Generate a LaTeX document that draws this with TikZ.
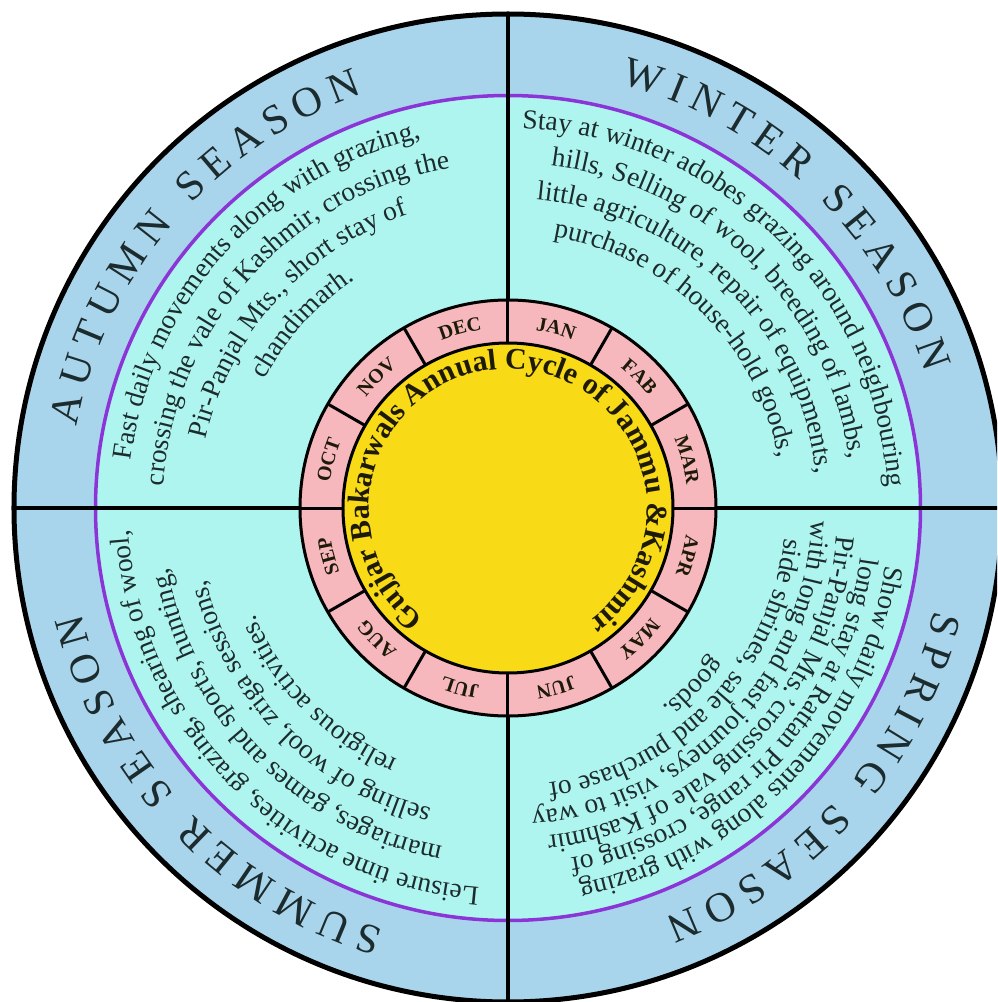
\documentclass[tikz,border=0pt]{standalone}
\usepackage{fontspec}
\setmainfont{Liberation Serif}
\definecolor{bandblue}{HTML}{A9D5EC}
\definecolor{innercyan}{HTML}{AFF5EF}
\definecolor{ringpurple}{HTML}{8B35D6}
\definecolor{monthpink}{HTML}{F6B8BC}
\definecolor{sunyellow}{HTML}{F8DA16}
\definecolor{inkdark}{HTML}{1C2B2D}
\definecolor{titleink}{HTML}{1E1A08}
\newcommand\descfont{\fontsize{27.5}{30}\selectfont}
\newcommand\seasonfont{\fontsize{42}{44}\selectfont}
\newcommand\monthfont{\fontsize{20}{22}\selectfont\bfseries}
\newcommand\titlefont{\fontsize{30}{32}\selectfont\bfseries}
\AtBeginDocument{\let\arcorigselectfont\selectfont}
\ExplSyntaxOn
\dim_new:N \l__arc_total_dim
\dim_new:N \l__arc_pos_dim
\dim_new:N \l__arc_mid_dim
\fp_new:N \l__arc_ang_fp
\box_new:N \l__arc_box
\int_new:N \g__arc_count_int
\cs_new_protected:Npn \__arc_setbox:nn #1#2
  {
    \str_if_eq:nnTF {#2} {~}
      { \hbox_set:Nn \l__arc_box { \cs_set_eq:NN \selectfont \arcorigselectfont #1 \skip_horizontal:n { \fontdimen2\font } } }
      { \hbox_set:Nn \l__arc_box { \cs_set_eq:NN \selectfont \arcorigselectfont #1 #2 } }
  }
% #1 radius (pt number), #2 centre angle, #3 font, #4 tracking, #5 colour, #6 text
\cs_new_protected:Npn \arcstring #1#2#3#4#5#6
  {
    \dim_zero:N \l__arc_total_dim
    \str_map_inline:nn {#6}
      {
        \__arc_setbox:nn {#3} {##1}
        \dim_add:Nn \l__arc_total_dim { \box_wd:N \l__arc_box + #4 }
      }
    \dim_set:Nn \l__arc_pos_dim { -\l__arc_total_dim / 2 }
    \str_map_inline:nn {#6}
      {
        \__arc_setbox:nn {#3} {##1}
        \dim_set:Nn \l__arc_mid_dim { \l__arc_pos_dim + \box_wd:N \l__arc_box / 2 + (#4) / 2 }
        \fp_set:Nn \l__arc_ang_fp { (#2) - \dim_to_fp:n { \l__arc_mid_dim } / (#1) * 180 / pi }
        \str_if_eq:nnF {##1} {~}
          {
            \int_gincr:N \g__arc_count_int
            \node [ name = ch\int_use:N \g__arc_count_int ,
                    rotate = \fp_eval:n { round(\l__arc_ang_fp - 90, 3) } ,
                    anchor = base , inner~sep = 0pt , outer~sep = 0pt , text = #5 ]
              at ( \fp_eval:n { round( (#1) * cosd(\l__arc_ang_fp), 3) } pt ,
                   \fp_eval:n { round( (#1) * sind(\l__arc_ang_fp), 3) } pt )
              { #3 ##1 } ;
          }
        \dim_add:Nn \l__arc_pos_dim { \box_wd:N \l__arc_box + #4 }
      }
  }
\ExplSyntaxOff
\tikzset{
  blackline/.style={draw=black, line width=3.5pt},
  ringline/.style={draw=black, line width=3pt},
}
\begin{document}
\begin{tikzpicture}
\clip (-508pt,-494pt) rectangle (489pt,508pt);
\fill[white] (-508pt,-494pt) rectangle (489pt,508pt);
\coordinate (O) at (0,0);
\coordinate (N) at (90:494pt);
\coordinate (S) at (-90:494pt);
\coordinate (W) at (180:494pt);
\coordinate (E) at (0:494pt);
% bands
\fill[bandblue] (O) circle[radius=494pt];
\fill[innercyan] (O) circle[radius=412.5pt];
\draw[ringpurple, line width=3.5pt] (O) circle[radius=412.5pt];
% cross
\draw[blackline] (N) -- (S);
\draw[blackline] (W) -- (E);
% month ring
\filldraw[fill=monthpink, ringline] (O) circle[radius=208pt];
\foreach \a in {0,30,...,330}{
  \draw[ringline] (\a:165pt) -- (\a:208pt);
}
\filldraw[fill=sunyellow, ringline] (O) circle[radius=165pt];
% outer rim
\draw[black, line width=5pt] (O) circle[radius=494pt];
% months
\arcstring{180}{75}{\monthfont}{0pt}{titleink}{JAN}
\arcstring{180}{45}{\monthfont}{0pt}{titleink}{FAB}
\arcstring{180}{15}{\monthfont}{0pt}{titleink}{MAR}
\arcstring{180}{-15}{\monthfont}{0pt}{titleink}{APR}
\arcstring{180}{-45}{\monthfont}{0pt}{titleink}{MAY}
\arcstring{180}{-75}{\monthfont}{0pt}{titleink}{JUN}
\arcstring{180}{-105}{\monthfont}{0pt}{titleink}{JUL}
\arcstring{180}{-135}{\monthfont}{0pt}{titleink}{AUG}
\arcstring{180}{-165}{\monthfont}{0pt}{titleink}{SEP}
\arcstring{180}{165}{\monthfont}{0pt}{titleink}{OCT}
\arcstring{180}{135}{\monthfont}{0pt}{titleink}{NOV}
\arcstring{180}{105}{\monthfont}{0pt}{titleink}{DEC}
% title
\arcstring{139}{89}{\titlefont}{0pt}{titleink}{Gujjar Bakarwals Annual Cycle of Jammu &Kashmir}
% seasons
\arcstring{439}{139.3}{\seasonfont}{8.5pt}{inkdark}{AUTUMN SEASON}
\arcstring{439}{46.5}{\seasonfont}{8.5pt}{inkdark}{WINTER SEASON}
\arcstring{439}{-41.3}{\seasonfont}{8.5pt}{inkdark}{SPRING SEASON}
\arcstring{439}{-136.3}{\seasonfont}{8.5pt}{inkdark}{SUMMER SEASON}
% autumn
\arcstring{380}{138}{\descfont}{0pt}{inkdark}{Fast daily movements along with grazing,}
\arcstring{345}{138}{\descfont}{0pt}{inkdark}{crossing the vale of Kashmir, crossing the}
\arcstring{310}{138}{\descfont}{0pt}{inkdark}{Pir-Panjal Mts., short stay of}
\arcstring{275}{138}{\descfont}{0pt}{inkdark}{chandimarh.}
% winter
\arcstring{380}{45.5}{\descfont}{0pt}{inkdark}{Stay at winter adobes grazing around neighbouring}
\arcstring{345}{45.5}{\descfont}{0pt}{inkdark}{hills, Selling of wool, breeding of lambs,}
\arcstring{310}{45.5}{\descfont}{0pt}{inkdark}{little agriculture, repair of equipments,}
\arcstring{275}{45.5}{\descfont}{0pt}{inkdark}{purchase of house-hold goods,}
% spring
\arcstring{382}{-44}{\descfont}{0pt}{inkdark}{Show daily movements along with grazing}
\arcstring{356}{-44}{\descfont}{0pt}{inkdark}{long stay at Rattan Pir range, crossing of}
\arcstring{330}{-44}{\descfont}{0pt}{inkdark}{Pir-Panjal Mts.'crossing vale of Kashmir}
\arcstring{304}{-44}{\descfont}{0pt}{inkdark}{with long and fast journeys, visit to way}
\arcstring{278}{-44}{\descfont}{0pt}{inkdark}{side shrines, sale and purchase of}
\arcstring{252}{-44}{\descfont}{0pt}{inkdark}{goods.}
% summer
\arcstring{380}{-135.5}{\descfont}{0pt}{inkdark}{Leisure time activities, grazing, shearing of wool,}
\arcstring{345}{-135.5}{\descfont}{0pt}{inkdark}{marriages, games and sports, hunting,}
\arcstring{310}{-135.5}{\descfont}{0pt}{inkdark}{selling of wool, zriga sessions,}
\arcstring{275}{-135.5}{\descfont}{0pt}{inkdark}{religious activities.}
\end{tikzpicture}
\end{document}
